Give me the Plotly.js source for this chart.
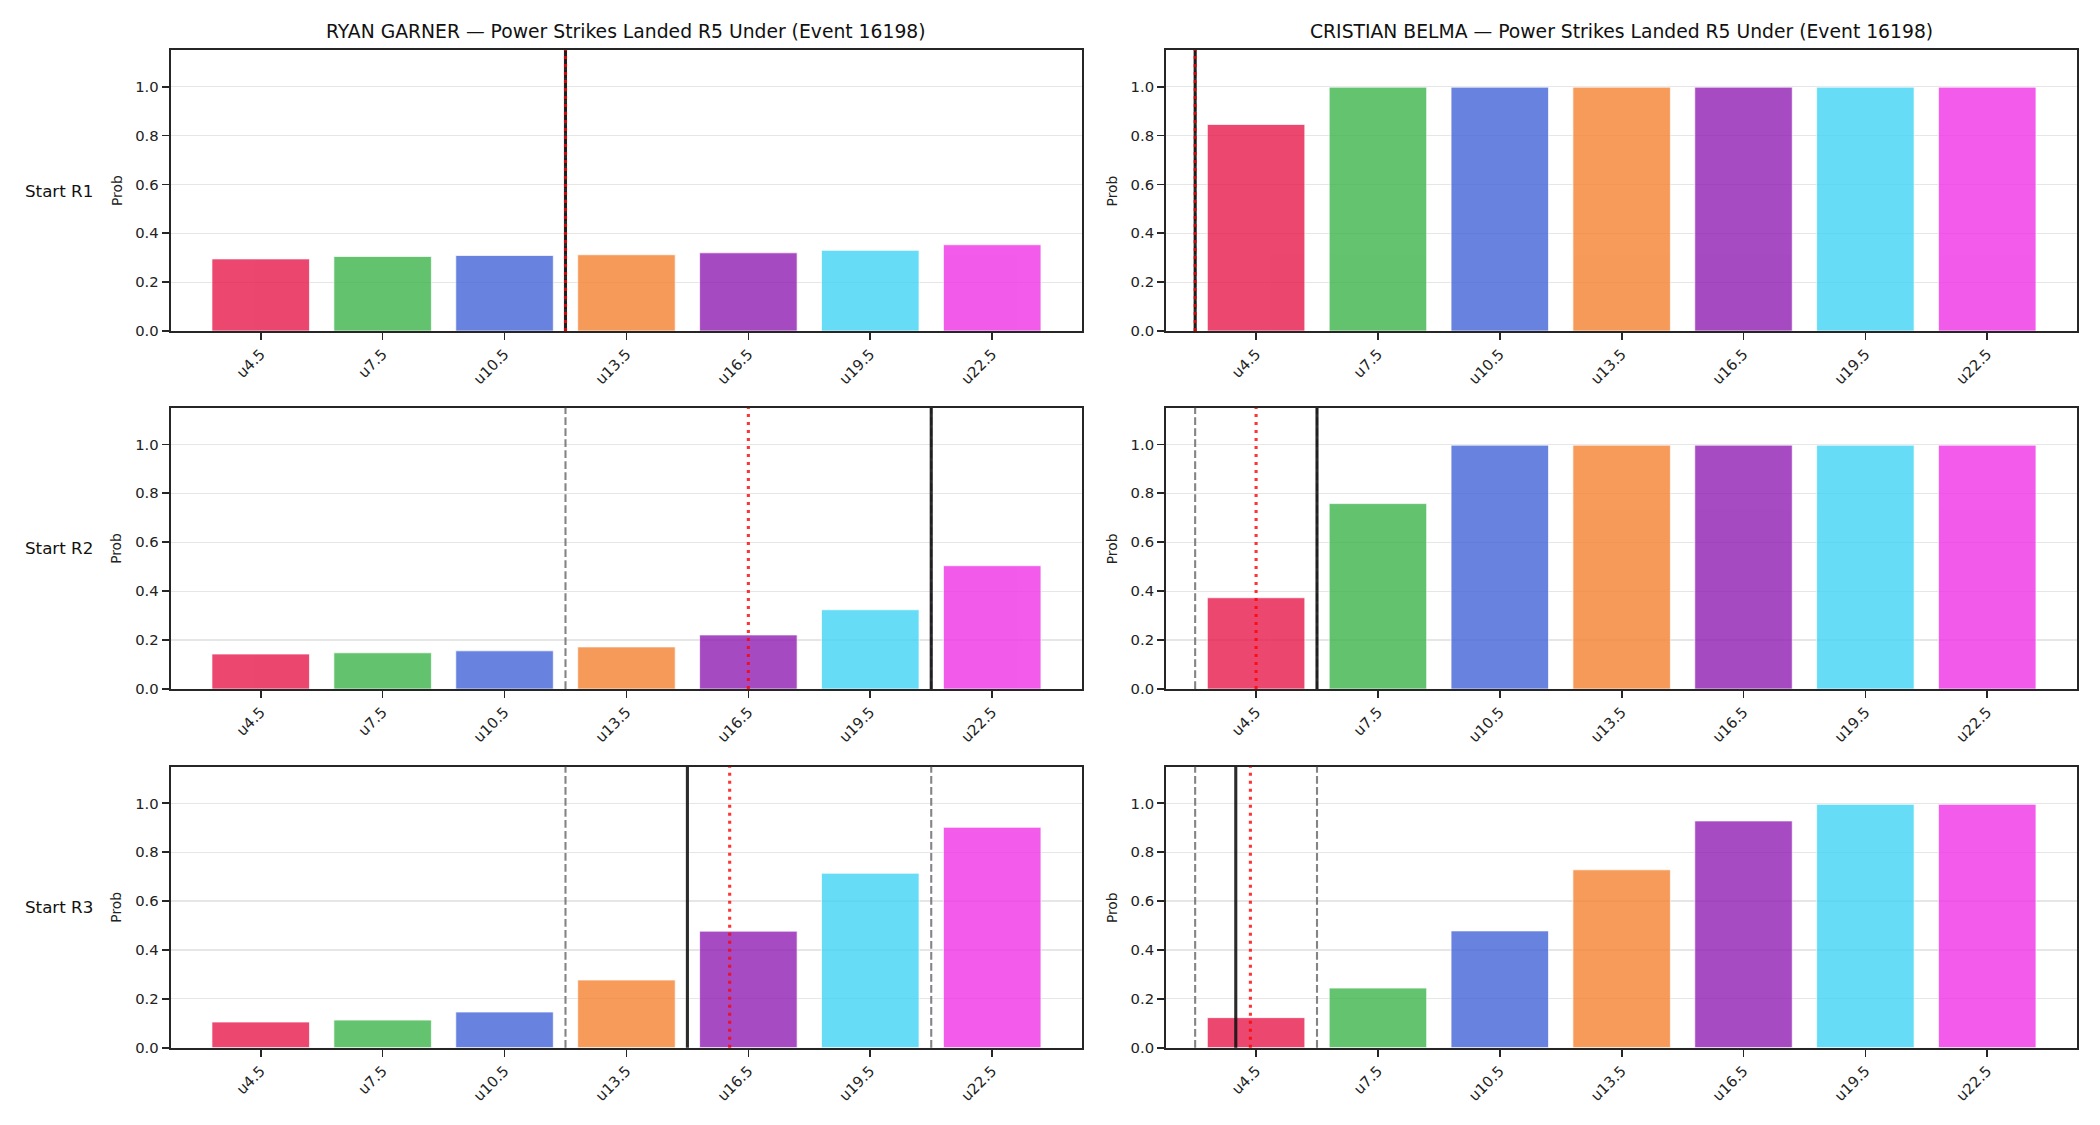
<!DOCTYPE html>
<html>
<head>
<meta charset="utf-8">
<script src="https://cdn.plot.ly/plotly-3.0.1.min.js"></script>
<style>html,body{margin:0;padding:0;background:#fff;}#chart{width:2100px;height:1125px;}</style>
</head>
<body>
<div id="chart"></div>
<script>
// ---------- DATA ----------
const lines = [4.5, 7.5, 10.5, 13.5, 16.5, 19.5, 22.5];
const tickLabels = ["u4.5", "u7.5", "u10.5", "u13.5", "u16.5", "u19.5", "u22.5"];
const fighters = ["RYAN GARNER", "CRISTIAN BELMA"];
const titleSuffix = " — Power Strikes Landed R5 Under (Event 16198)";
const startLabels = ["Start R1", "Start R2", "Start R3"];
const yLabel = "Prob";

const garnerR1 = [0.295, 0.305, 0.309, 0.312, 0.320, 0.330, 0.353];
const garnerR2 = [0.143, 0.148, 0.156, 0.172, 0.221, 0.324, 0.504];
const garnerR3 = [0.105, 0.113, 0.146, 0.277, 0.477, 0.714, 0.902];
const belmaR1 = [0.845, 0.998, 0.998, 0.998, 0.998, 0.998, 0.998];
const belmaR2 = [0.373, 0.758, 0.997, 0.997, 0.997, 0.997, 0.997];
const belmaR3 = [0.123, 0.244, 0.478, 0.728, 0.928, 0.996, 0.996];

// reference lines per panel: [low (dashed), median (solid), high (dashed), mean (dotted)]
const garnerRef = [[12, 12, 12, 12], [12, 21, 21, 16.5], [12, 15, 21, 16.04]];
const belmaRef  = [[3, 3, 3, 3], [3, 6, 6, 4.5], [3, 4, 6, 4.36]];

const barColors = ["#e6194b", "#3cb44b", "#4363d8", "#f58231", "#911eb4", "#42d4f4", "#f032e6"];

const panelValues = [[garnerR1, belmaR1], [garnerR2, belmaR2], [garnerR3, belmaR3]];
const panelRefs = [[garnerRef[0], belmaRef[0]], [garnerRef[1], belmaRef[1]], [garnerRef[2], belmaRef[2]]];

// ---------- LAYOUT GEOMETRY (pixels) ----------
const W = 2100, H = 1125;
const colPx = [[170.5, 1082.4], [1165.9, 2077.4]];
const rowPx = [[50, 331], [407.7, 689], [766.7, 1047.7]];
const FONT = "DejaVu Sans, sans-serif";

const data = [];
const layout = {
  width: W, height: H,
  margin: {l: 0, r: 0, t: 0, b: 0, pad: 0},
  paper_bgcolor: "#ffffff",
  plot_bgcolor: "#ffffff",
  showlegend: false,
  font: {family: FONT, color: "#222222"},
  shapes: [],
  annotations: []
};

for (let r = 0; r < 3; r++) {
  for (let c = 0; c < 2; c++) {
    const idx = r * 2 + c + 1;
    const xa = idx === 1 ? "xaxis" : "xaxis" + idx;
    const ya = idx === 1 ? "yaxis" : "yaxis" + idx;
    const xr = idx === 1 ? "x" : "x" + idx;
    const yr = idx === 1 ? "y" : "y" + idx;

    data.push({
      type: "bar",
      x: lines,
      y: panelValues[r][c],
      width: 2.4,
      marker: {color: barColors, opacity: 0.8, line: {width: 0.8, color: "rgba(255,255,255,0.9)"}},
      xaxis: xr, yaxis: yr,
      hoverinfo: "x+y"
    });

    layout[xa] = {
      domain: [colPx[c][0] / W, colPx[c][1] / W],
      anchor: yr,
      range: [2.28, 24.72],
      tickmode: "array",
      tickvals: lines,
      ticktext: tickLabels,
      tickangle: -45,
      tickfont: {family: FONT, size: 14.8, color: "#222222"},
      ticks: "outside", ticklen: 7, tickwidth: 1.7, tickcolor: "#262626",
      showline: true, linewidth: 1.8, linecolor: "#262626", mirror: true,
      showgrid: false, zeroline: false, fixedrange: true
    };
    layout[ya] = {
      domain: [1 - rowPx[r][1] / H, 1 - rowPx[r][0] / H],
      anchor: xr,
      range: [0, 1.15],
      tickmode: "array",
      tickvals: [0, 0.2, 0.4, 0.6, 0.8, 1.0],
      ticktext: ["0.0", "0.2", "0.4", "0.6", "0.8", "1.0"],
      tickfont: {family: FONT, size: 14.8, color: "#222222"},
      ticks: "outside", ticklen: 7, tickwidth: 1.7, tickcolor: "#262626",
      showline: true, linewidth: 1.8, linecolor: "#262626", mirror: true,
      showgrid: true, gridcolor: "#e6e6e6", gridwidth: 1.2,
      zeroline: false, fixedrange: true
    };

    // reference vertical lines
    const ref = panelRefs[r][c];
    const vline = (xv, color, width, dash) => ({
      type: "line", layer: "above",
      xref: xr, yref: yr + " domain",
      x0: xv, x1: xv, y0: 0, y1: 1,
      line: {color: color, width: width, dash: dash}
    });
    layout.shapes.push(vline(ref[0], "rgba(110,110,110,0.85)", 2.1, "7.7px,3.3px"));
    layout.shapes.push(vline(ref[2], "rgba(110,110,110,0.85)", 2.1, "7.7px,3.3px"));
    layout.shapes.push(vline(ref[1], "rgba(20,20,20,0.9)", 3.1, "solid"));
    layout.shapes.push(vline(ref[3], "rgba(255,0,0,0.8)", 3.1, "3px,5px"));

    // y label
    layout.annotations.push({
      text: yLabel, textangle: -90,
      xref: "paper", yref: "paper",
      x: colPx[c][0] / W, y: 1 - (rowPx[r][0] + rowPx[r][1]) / 2 / H,
      xshift: -54, xanchor: "center", yanchor: "middle",
      showarrow: false, font: {family: FONT, size: 13.8, color: "#222222"}
    });

    // titles on top row
    if (r === 0) {
      layout.annotations.push({
        text: fighters[c] + titleSuffix,
        xref: "paper", yref: "paper",
        x: (colPx[c][0] + colPx[c][1]) / 2 / W, y: 1 - rowPx[0][0] / H,
        xanchor: "center", yanchor: "bottom", yshift: 6,
        showarrow: false, font: {family: FONT, size: 18.75, color: "#111111"}
      });
    }
  }
  // row labels
  layout.annotations.push({
    text: startLabels[r],
    xref: "paper", yref: "paper",
    x: 22.7 / W, y: 1 - (rowPx[r][0] + rowPx[r][1]) / 2 / H,
    xanchor: "left", yanchor: "middle",
    showarrow: false, font: {family: FONT, size: 16.7, color: "#111111"}
  });
}

Plotly.newPlot("chart", data, layout, {displayModeBar: false, staticPlot: true});
</script>
</body>
</html>
